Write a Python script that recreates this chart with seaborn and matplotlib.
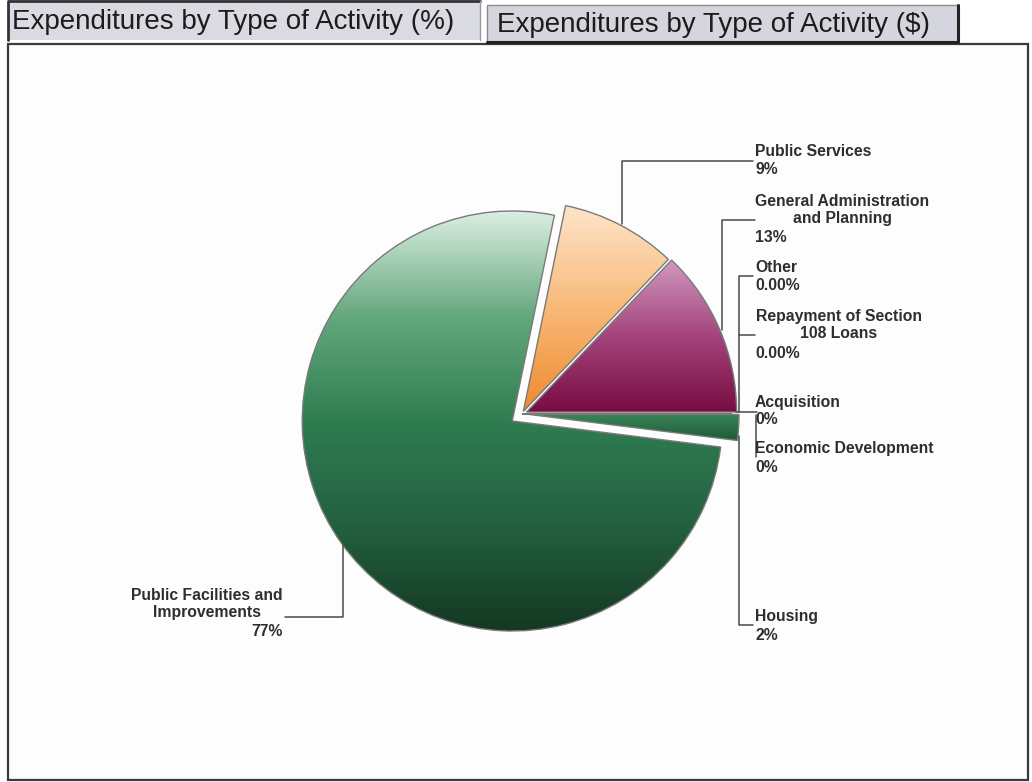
import numpy as np
import matplotlib
matplotlib.use("Agg")
import matplotlib.pyplot as plt
from matplotlib.patches import Rectangle
import seaborn as sns

# data
categories = [
    "General Administration\nand Planning",
    "Public Services",
    "Public Facilities and\nImprovements",
    "Housing",
    "Economic Development",
    "Acquisition",
    "Repayment of Section\n108 Loans",
    "Other",
]
shares = [13, 9, 77, 2, 0, 0, 0, 0]
pct_labels = ["13%", "9%", "77%", "2%", "0%", "0%", "0.00%", "0.00%"]
tab_titles = ["Expenditures by Type of Activity (%)",
              "Expenditures by Type of Activity ($)"]

# gradient stops, top -> bottom, for each slice
slice_colors = [
    ["#cf98bf", "#a4447c", "#780c42"],
    ["#fde5ca", "#f9b978", "#ee8a2f"],
    ["#dbeee2", "#64a87d", "#2f7d51", "#236040", "#153822"],
    ["#3b875a", "#1f5a38"],
    ["#888888"], ["#888888"], ["#888888"], ["#888888"],
]
explode = [5, 3, 12, 7, 0, 0, 0, 0]

# label layout in pixels: (x, y of name, ha, x of pct, y of pct, ha of pct)
label_pos = [
    (755, 210, "left", 755, 238, "left"),
    (755, 152, "left", 755, 170, "left"),
    (283, 604, "right", 283, 632, "right"),
    (755, 617, "left", 755, 635, "left"),
    (755, 449, "left", 755, 467, "left"),
    (755, 402, "left", 755, 420, "left"),
    (756, 325, "left", 755, 353, "left"),
    (755, 267, "left", 755, 285, "left"),
]
leaders = [
    [(755, 220), (722, 220), (722, 330)],
    [(753, 161), (622, 161), (622, 224)],
    [(285, 617), (343, 617), (343, 545)],
    [(753, 625), (739, 625), (739, 436)],
    [(756, 457), (756, 415)],
    [(757, 412), (736, 412)],
    [(755, 335), (739, 335)],
    [(753, 276), (739, 276), (739, 412)],
]

sns.set_theme(style="white")
plt.rcParams["font.family"] = ["Liberation Sans", "DejaVu Sans"]

W, H = 1032, 782
fig = plt.figure(figsize=(W / 100, H / 100), dpi=100)
ax = fig.add_axes([0, 0, 1, 1])

# panel and the two tabs
ax.add_patch(Rectangle((8, 44), 1020, 736, facecolor="#fdfdfd",
                       edgecolor="#3a3a3a", linewidth=1.6, zorder=0))
ax.add_patch(Rectangle((8, 0), 472, 40, facecolor="#dadae2",
                       edgecolor="none", zorder=0))
ax.plot([8, 8, 480], [40, 1, 1], color="#333333", lw=2.0, zorder=1)
ax.plot([480, 480], [1, 40], color="#9a9aa2", lw=1.0, zorder=1)
ax.add_patch(Rectangle((487, 5), 471, 37, facecolor="#d5d5dd",
                       edgecolor="#8a8a92", linewidth=1.0, zorder=0))
ax.plot([958, 958, 487], [5, 42, 42], color="#222222", lw=2.2, zorder=1)
ax.text(12, 22, tab_titles[0], fontsize=20, color="#1c1c1c",
        va="center", ha="left")
ax.text(497, 25, tab_titles[1], fontsize=20, color="#1c1c1c",
        va="center", ha="left")

wedges, _ = ax.pie(
    shares,
    explode=explode,
    center=(522, 414),
    radius=210,
    startangle=0,
    counterclock=False,
    wedgeprops=dict(edgecolor="#7a7a7a", linewidth=1.0),
    frame=True,
)

# vertical shading inside each slice
for w, share, stops in zip(wedges, shares, slice_colors):
    w.set_zorder(3)
    if share == 0:
        w.set_facecolor("none")
        continue
    (x0, y0), (x1, y1) = w.get_path().get_extents().get_points()
    grad = np.array(sns.blend_palette(stops, n_colors=256))[:, None, :]
    im = ax.imshow(grad, extent=(x0, x1, y1, y0), origin="upper",
                   aspect="auto", interpolation="bilinear", zorder=2)
    im.set_clip_path(w)
    w.set_facecolor("none")

for name, pct, pos, line in zip(categories, pct_labels, label_pos, leaders):
    x, y, ha, xp, yp, hap = pos
    ax.text(x, y, name, ha=ha, va="center", multialignment="center",
            fontsize=11.3, fontweight="bold", color="#2e2e2e",
            linespacing=1.1, zorder=5)
    ax.text(xp, yp, pct, ha=hap, va="center", fontsize=11.3,
            fontweight="bold", color="#2e2e2e", zorder=5)
    xs, ys = zip(*line)
    ax.plot(xs, ys, color="#4a4a4a", lw=1.1, zorder=4)

ax.set_xlim(0, W)
ax.set_ylim(H, 0)
ax.set_aspect("auto")
ax.axis("off")

fig.savefig("out.png", dpi=100, facecolor="white")
